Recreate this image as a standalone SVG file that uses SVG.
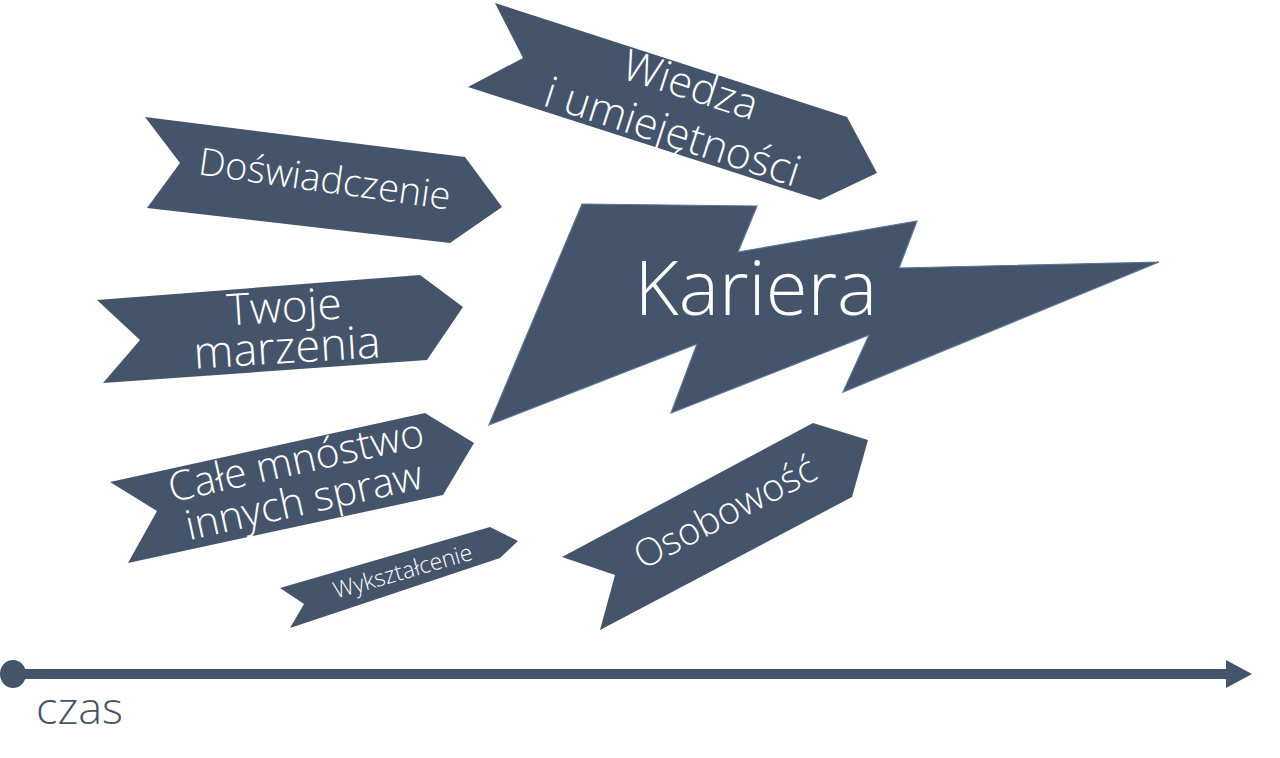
<svg xmlns="http://www.w3.org/2000/svg" width="1280" height="758" viewBox="0 0 1280 758">
<style>
.shape{fill:#44546A}
.bolt{fill:#44546A;stroke:#5a7597;stroke-width:1.2;stroke-linejoin:miter}
.lbl{fill:#ffffff;font-family:"Open Sans","DejaVu Sans",sans-serif;font-weight:300;text-anchor:middle}
.axis{fill:#44546A;font-family:"Open Sans","DejaVu Sans",sans-serif;font-weight:300}
</style>
<rect width="1280" height="758" fill="#ffffff"/>

<g id="wiedza">
<polygon class="shape" points="495,3 847,117 877,173 820,200 468,87 523,58"/>
<text class="lbl" font-size="43" transform="translate(686,99) rotate(18)">Wiedza</text>
<text class="lbl" font-size="43" transform="translate(668,146) rotate(18)">i umiejętności</text>
</g>

<g id="doswiadczenie">
<polygon class="shape" points="145,117 465,157 502,207 450,243 147,208 180,163"/>
<text class="lbl" font-size="38" transform="translate(323,192) rotate(8)">Doświadczenie</text>
</g>

<g id="twoje-marzenia">
<polygon class="shape" points="97,300 420,275 463,307 427,360 103,383 140,340"/>
<text class="lbl" font-size="44" transform="translate(285,322) rotate(-3.5)">Twoje</text>
<text class="lbl" font-size="45" transform="translate(288,363) rotate(-3.5)">marzenia</text>
</g>

<g id="kariera">
<polygon class="bolt" points="582,204 757,206 738,252 917,221 899,268 1159,262 843,392 869,335 671,413 697,344 489,425"/>
<text class="lbl" font-size="76" x="756" y="315">Kariera</text>
</g>

<g id="cale-mnostwo">
<polygon class="shape" points="110,482 425,413 474,443 443,495 128,563 157,511"/>
<text class="lbl" font-size="41" transform="translate(299,474) rotate(-12.5)">Całe mnóstwo</text>
<text class="lbl" font-size="41" transform="translate(307,514) rotate(-12.5)">innych spraw</text>
</g>

<g id="wyksztalcenie">
<polygon class="shape" points="280,588 490,527 518,541 500,558 290,628 304,604"/>
<text class="lbl" font-size="23" transform="translate(405,579) rotate(-16)">Wykształcenie</text>
</g>

<g id="osobowosc">
<polygon class="shape" points="562,557 813,423 868,440 852,497 600,630 615,575"/>
<text class="lbl" font-size="38" transform="translate(731,524) rotate(-27.5)">Osobowość</text>
</g>

<g id="connectors"></g>

<g id="timeline">
<line x1="14" y1="674" x2="1230" y2="674" stroke="#44546A" stroke-width="10"/>
<ellipse cx="13" cy="674" rx="13" ry="14" fill="#44546A"/>
<polygon points="1226,660 1252,674 1226,688" fill="#44546A"/>
<text class="axis" font-size="45" x="36" y="724">czas</text>
</g>
</svg>
